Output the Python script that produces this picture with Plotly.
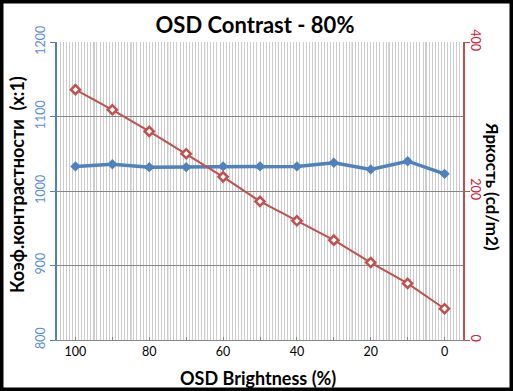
import plotly.graph_objects as go

categories = ["100", "90", "80", "70", "60", "50", "40", "30", "20", "10", "0"]
contrast = [1033, 1036, 1032, 1032, 1033, 1033, 1033, 1038, 1029, 1040, 1023]
brightness = [336, 309, 280, 250, 219, 186, 160, 134, 104, 76, 42]
tick_labels = ["100", "", "80", "", "60", "", "40", "", "20", "", "0"]

W, H = 513, 391
L, R, T, B = 57, 50, 42, 51
PW, PH = W - L - R, H - T - B

def px(x):
    return (x - L) / PW

def py(y):
    return (H - B - y) / PH

FONT = "Lato, sans-serif"
BLUE = "#4f81bd"
RED = "#c0504d"
GRID = "#868686"

idx = list(range(len(categories)))

fig = go.Figure()
fig.add_trace(go.Scatter(
    x=idx, y=contrast, mode="lines+markers", yaxis="y",
    line=dict(color=BLUE, width=3.5),
    marker=dict(symbol="diamond", size=8, color=BLUE),
    showlegend=False, cliponaxis=False, hoverinfo="skip"))
fig.add_trace(go.Scatter(
    x=idx, y=brightness, mode="lines+markers", yaxis="y2",
    line=dict(color=RED, width=2),
    marker=dict(symbol="diamond", size=7, color="white", line=dict(color=RED, width=2.5)),
    showlegend=False, cliponaxis=False, hoverinfo="skip"))

shapes = []
for k in range(len(categories) - 1):
    shapes.append(dict(type="line", xref="x", yref="paper", x0=k + 0.5, x1=k + 0.5,
                       y0=0, y1=1, line=dict(color=GRID, width=1), layer="below"))
shapes.append(dict(type="rect", xref="paper", yref="paper",
                   x0=px(0), x1=px(W), y0=py(H), y1=py(0),
                   line=dict(color="black", width=7), layer="above"))

fig.update_layout(
    width=W, height=H,
    margin=dict(l=L, r=R, t=T, b=B),
    paper_bgcolor="white", plot_bgcolor="white",
    font=dict(family=FONT, size=12.5, color="black"),
    title=dict(text="<b>OSD Contrast - 80%</b>", x=px(255), xref="paper", xanchor="center",
               y=1 - 25 / H, yanchor="middle", font=dict(size=22, family=FONT, color="black")),
    xaxis=dict(range=[-0.5, len(categories) - 0.5], tickmode="array", tickvals=idx,
               ticktext=tick_labels, ticks="inside", ticklen=3, tickcolor=GRID,
               showgrid=False, zeroline=False, showline=True, linecolor=GRID, linewidth=1,
               tickfont=dict(size=12.5, color="black"),
               minor=dict(dtick=1 / 12, tick0=-0.5, showgrid=True, gridcolor="#cccccc",
                          gridwidth=1, ticks="")),
    yaxis=dict(range=[800, 1200], dtick=100, tickangle=-90, ticks="outside", ticklen=5,
               tickcolor=BLUE, showline=True, linecolor=BLUE, linewidth=2,
               showgrid=True, gridcolor=GRID, gridwidth=1, zeroline=False,
               tickfont=dict(size=12.5, color="#5b8fd6")),
    yaxis2=dict(range=[0, 400], dtick=200, tickangle=90, side="right", overlaying="y",
                ticks="outside", ticklen=5, tickcolor=RED, showline=True, linecolor=RED,
                linewidth=1.5, showgrid=False, zeroline=False, ticklabelstandoff=-4,
                tickfont=dict(size=12.5, color="#d0203a")),
    shapes=shapes,
    annotations=[
        dict(text="<b>Коэф.контрастности  (x:1)</b>", xref="paper", yref="paper",
             x=px(17), y=py(185), textangle=-90, showarrow=False,
             font=dict(size=18, family=FONT, color="black"), xanchor="center", yanchor="middle"),
        dict(text="<b>Яркость (cd/m2)</b>", xref="paper", yref="paper",
             x=px(493), y=py(186), textangle=90, showarrow=False,
             font=dict(size=17, family=FONT, color="black"), xanchor="center", yanchor="middle"),
        dict(text="<b>OSD Brightness (%)</b>", xref="paper", yref="paper",
             x=px(258), y=py(378), showarrow=False,
             font=dict(size=18, family=FONT, color="black"), xanchor="center", yanchor="middle"),
    ],
)

fig.write_html("out.html", config={"displayModeBar": False},
               post_script="document.body.style.margin='0';document.body.style.overflow='hidden';")
